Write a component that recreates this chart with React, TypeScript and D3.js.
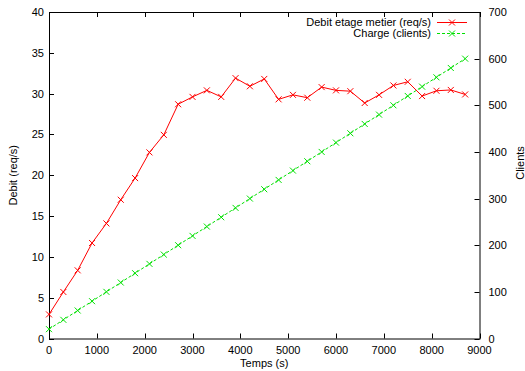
import React, { useRef, useEffect } from "react";
import * as d3 from "d3";

// Temps (s), one sample every 300 s
const temps = [
  0, 300, 600, 900, 1200, 1500, 1800, 2100, 2400, 2700, 3000, 3300, 3600, 3900,
  4200, 4500, 4800, 5100, 5400, 5700, 6000, 6300, 6600, 6900, 7200, 7500, 7800,
  8100, 8400, 8700,
];
// Debit etage metier (req/s)
const debit = [
  2.95, 5.7, 8.35, 11.7, 14.1, 17.0, 19.65, 22.8, 24.95, 28.7, 29.6, 30.4, 29.6,
  31.9, 30.9, 31.8, 29.3, 29.85, 29.5, 30.8, 30.4, 30.3, 28.85, 29.85, 31.0,
  31.45, 29.7, 30.35, 30.45, 29.9,
];
// Charge (clients)
const clients = [
  20, 40, 60, 80, 100, 120, 140, 160, 180, 200, 220, 240, 260, 280, 300, 320,
  340, 360, 380, 400, 420, 440, 460, 480, 500, 520, 540, 560, 580, 600,
];

const xTicks = [0, 1000, 2000, 3000, 4000, 5000, 6000, 7000, 8000, 9000];
const yTicks = [0, 5, 10, 15, 20, 25, 30, 35, 40];
const y2Ticks = [0, 100, 200, 300, 400, 500, 600, 700];

const App: React.FC = () => {
  const ref = useRef<SVGSVGElement | null>(null);
  const width = 525;
  const height = 371;
  const margin = { top: 12, right: 45, bottom: 32, left: 49 };

  useEffect(() => {
    if (!ref.current) return;
    const svg = d3.select(ref.current);
    svg.selectAll("*").remove();

    const font = "'Liberation Sans', Arial, sans-serif";
    const x0 = margin.left;
    const x1 = width - margin.right - 0.5;
    const yTop = margin.top;
    const yBot = height - margin.bottom - 0.5;

    const x = d3.scaleLinear().domain([0, 9000]).range([x0, x1]);
    const y = d3.scaleLinear().domain([0, 40]).range([yBot, yTop]);
    const y2 = d3.scaleLinear().domain([0, 700]).range([yBot, yTop]);

    const g = svg.append("g");
    const tick = 5;

    // x ticks bottom + mirrored on top
    xTicks.forEach((t) => {
      const px = Math.round(x(t)) + 0.5;
      g.append("line").attr("x1", px).attr("x2", px)
        .attr("y1", yBot).attr("y2", yBot - tick).attr("stroke", "#000");
      g.append("line").attr("x1", px).attr("x2", px)
        .attr("y1", yTop).attr("y2", yTop + tick).attr("stroke", "#000");
      g.append("text").attr("x", x(t)).attr("y", yBot + 15)
        .attr("text-anchor", "middle").attr("font-family", font)
        .attr("font-size", 11).attr("fill", "#000").text(t);
    });

    yTicks.forEach((t) => {
      const py = Math.round(y(t)) + 0.5;
      g.append("line").attr("x1", x0).attr("x2", x0 + tick)
        .attr("y1", py).attr("y2", py).attr("stroke", "#000");
      g.append("text").attr("x", x0 - 5).attr("y", y(t) + 4)
        .attr("text-anchor", "end").attr("font-family", font)
        .attr("font-size", 11).attr("fill", "#000").text(t);
    });

    y2Ticks.forEach((t) => {
      const py = Math.round(y2(t)) + 0.5;
      g.append("line").attr("x1", x1).attr("x2", x1 - tick)
        .attr("y1", py).attr("y2", py).attr("stroke", "#000");
      g.append("text").attr("x", x1 + 9).attr("y", y2(t) + 4)
        .attr("text-anchor", "start").attr("font-family", font)
        .attr("font-size", 11).attr("fill", "#000").text(t);
    });

    // border
    g.append("rect").attr("x", x0 + 0.5).attr("y", yTop + 0.5)
      .attr("width", x1 - x0).attr("height", yBot - yTop)
      .attr("fill", "none").attr("stroke", "#000");

    // axis titles
    g.append("text").attr("x", (x0 + x1) / 2).attr("y", height - 4)
      .attr("text-anchor", "middle").attr("font-family", font)
      .attr("font-size", 11).text("Temps (s)");
    g.append("text").attr("transform", `translate(17,${(yTop + yBot) / 2}) rotate(-90)`)
      .attr("text-anchor", "middle").attr("font-family", font)
      .attr("font-size", 11).text("Debit (req/s)");
    g.append("text").attr("transform", `translate(524,163) rotate(-90)`)
      .attr("text-anchor", "middle").attr("font-family", font)
      .attr("font-size", 11).text("Clients");

    const cross = (sel: d3.Selection<SVGGElement, unknown, null, undefined>, cx: number, cy: number, color: string) => {
      const s = 3;
      sel.append("path")
        .attr("d", `M${cx - s},${cy - s}L${cx + s},${cy + s}M${cx - s},${cy + s}L${cx + s},${cy - s}`)
        .attr("stroke", color).attr("stroke-width", 1).attr("fill", "none");
    };

    const red = "#ff0000";
    const green = "#00e000";

    const lineRed = d3.line<number>().x((_, i) => x(temps[i])).y((d) => y(d));
    const lineGreen = d3.line<number>().x((_, i) => x(temps[i])).y((d) => y2(d));

    const series = g.append("g");
    series.append("path").attr("d", lineGreen(clients)!).attr("fill", "none")
      .attr("stroke", green).attr("stroke-width", 1).attr("stroke-dasharray", "3,2");
    clients.forEach((d, i) => cross(series, x(temps[i]), y2(d), green));

    series.append("path").attr("d", lineRed(debit)!).attr("fill", "none")
      .attr("stroke", red).attr("stroke-width", 1);
    debit.forEach((d, i) => cross(series, x(temps[i]), y(d), red));

    // legend
    const legend = g.append("g");
    const entries = [
      { label: "Debit etage metier (req/s)", color: red, dash: null as string | null },
      { label: "Charge (clients)", color: green, dash: "3,2" },
    ];
    entries.forEach((e, i) => {
      const ly = 22 + i * 11;
      legend.append("text").attr("x", 431).attr("y", ly + 4)
        .attr("text-anchor", "end").attr("font-family", font)
        .attr("font-size", 11).text(e.label);
      const ln = legend.append("line").attr("x1", 437).attr("x2", 467)
        .attr("y1", ly + 0.5).attr("y2", ly + 0.5)
        .attr("stroke", e.color).attr("stroke-width", 1);
      if (e.dash) ln.attr("stroke-dasharray", e.dash);
      cross(legend, 452, ly + 0.5, e.color);
    });
  }, []);

  return (
    <svg
      ref={ref}
      width={width}
      height={height}
      style={{ position: "absolute", left: 0, top: 0, background: "#fff" }}
    />
  );
};

export default App;
